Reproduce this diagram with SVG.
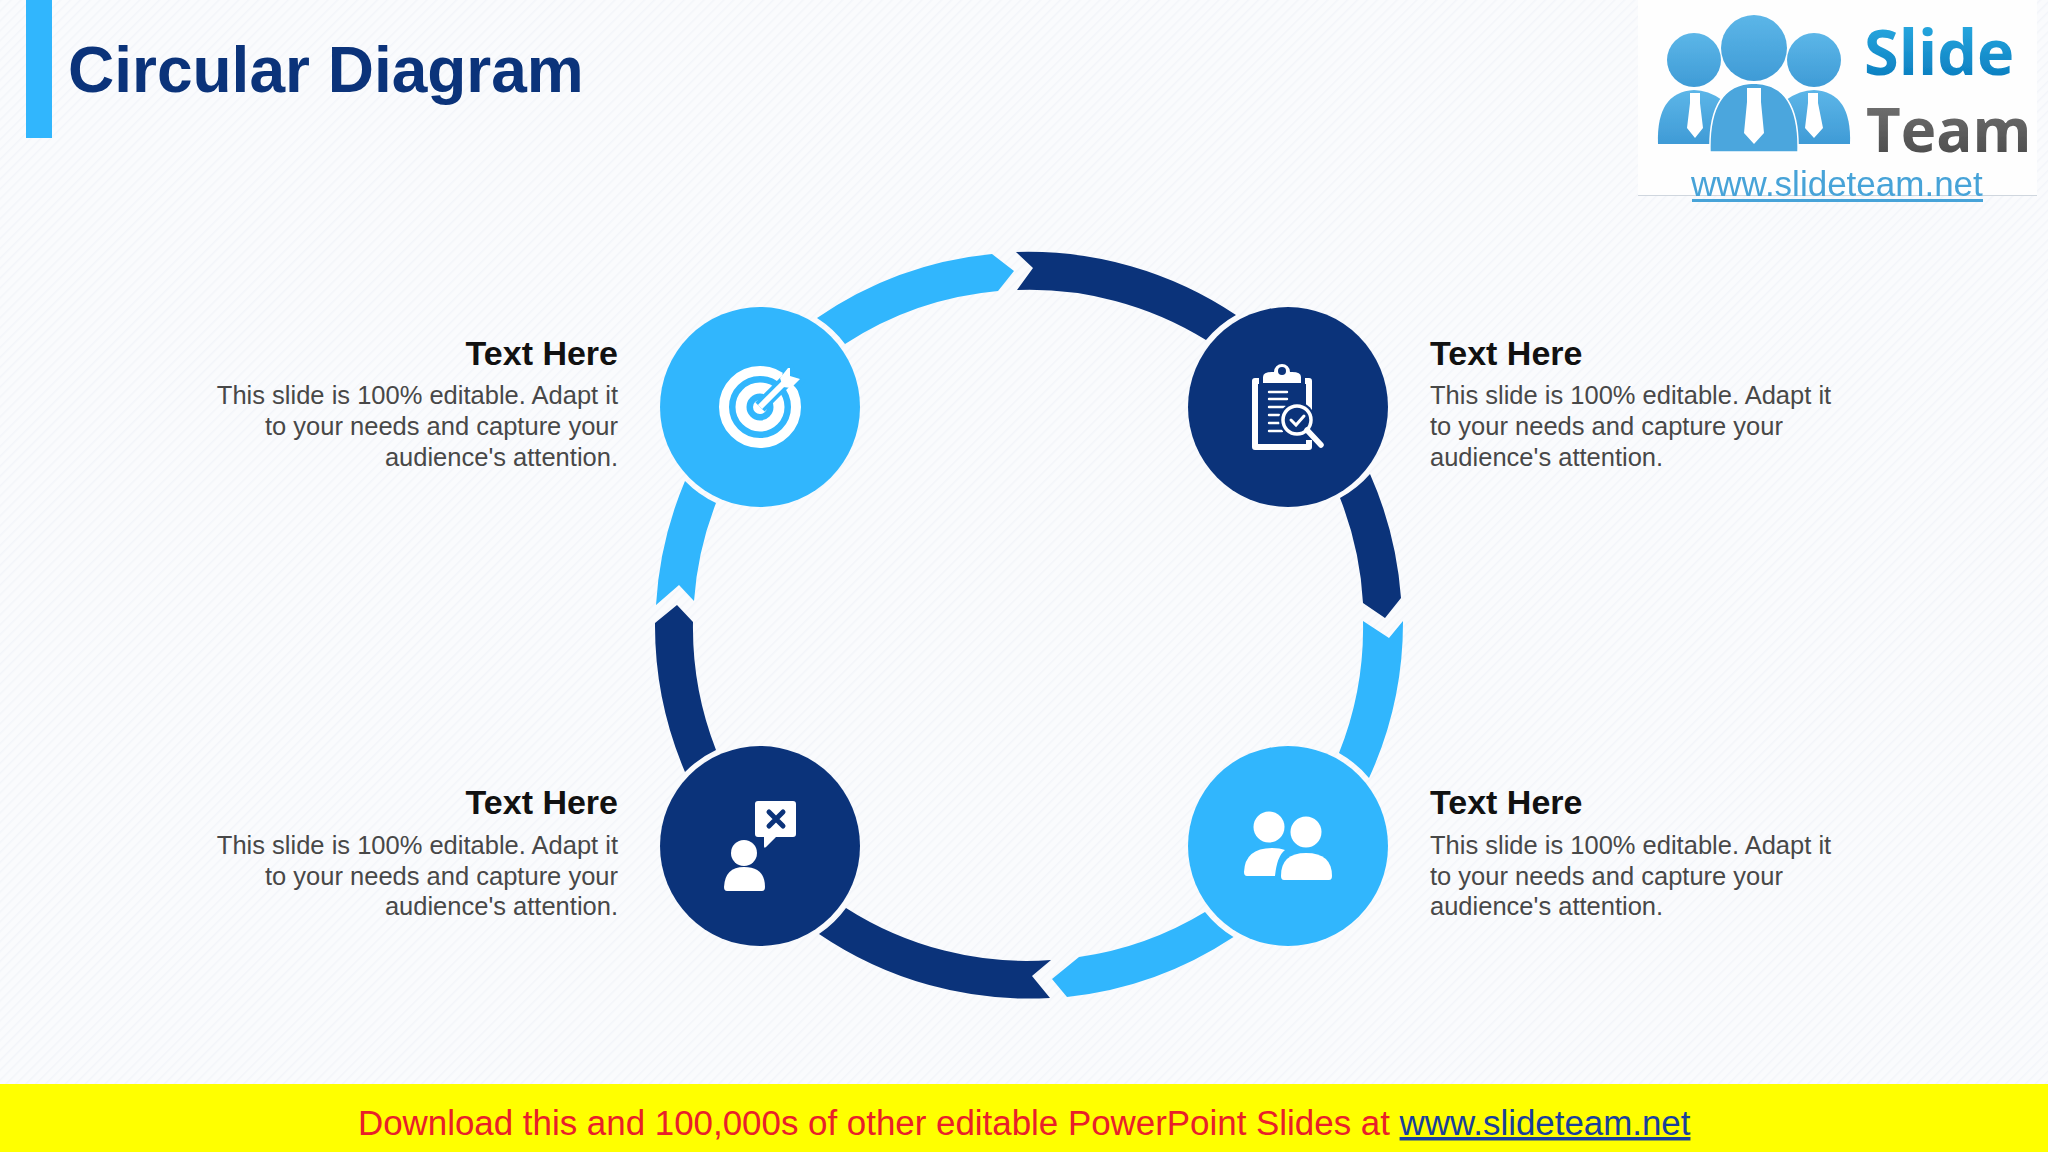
<svg xmlns="http://www.w3.org/2000/svg" width="2048" height="1152" viewBox="0 0 2048 1152">
<style>
.t{font-family:"Liberation Sans",Arial,sans-serif}
.h{font-size:34px;font-weight:700;fill:#111}
.b{font-size:25.5px;fill:#484848}
.l{fill:#31b6fd}
.d{fill:#0b337a}
.w{fill:#fff}
.ln{stroke:#fff;fill:none;stroke-linecap:round}
.o{font-family:"Open Sans","Liberation Sans",sans-serif;font-weight:700}
</style>
<defs>
<pattern id="bg" width="7" height="7" patternUnits="userSpaceOnUse" patternTransform="rotate(45)">
<rect width="7" height="7" fill="#fafbfd"/><rect width="1.500" height="7" fill="#f3f5fa"/>
</pattern>
<linearGradient id="gs" x1="0" y1="0" x2="0" y2="1"><stop offset="0" stop-color="#2fb3e8"/><stop offset="1" stop-color="#0574b8"/></linearGradient>
<linearGradient id="gt" x1="0" y1="0" x2="0" y2="1"><stop offset="0" stop-color="#7a7a7a"/><stop offset="1" stop-color="#444"/></linearGradient>
<linearGradient id="gp" x1="0" y1="0" x2="0" y2="1"><stop offset="0" stop-color="#5cb6e8"/><stop offset="1" stop-color="#3f9bd6"/></linearGradient>
<filter id="soft" x="-5%" y="-5%" width="110%" height="110%"><feGaussianBlur stdDeviation="0.7"/></filter>
</defs>
<rect id="background" width="2048" height="1152" fill="url(#bg)"/>
<g id="header">
<rect x="26" y="0" width="26" height="138" class="l"/>
<text x="68" y="92" class="t" font-size="64" font-weight="700" fill="#0b337a">Circular Diagram</text>
</g>
<g id="logo">
<rect x="1638" y="0" width="399" height="195" fill="#fefefe"/>
<rect x="1638" y="195" width="399" height="1" fill="#cfd6de"/>
<g filter="url(#soft)">
<circle cx="1694" cy="60" r="27" fill="url(#gp)"/>
<circle cx="1814" cy="60" r="27" fill="url(#gp)"/>
<path d="M1658 144Q1656 92 1694 90Q1708 90 1722 100V144Z" fill="url(#gp)"/>
<path d="M1850 144Q1852 92 1814 90Q1800 90 1786 100V144Z" fill="url(#gp)"/>
<path d="M1710 152Q1708 84 1754 83Q1800 84 1798 152Z" fill="#4ba6dd" stroke="#fff" stroke-width="1.500"/>
<circle cx="1754" cy="48" r="33" fill="url(#gp)"/>
<path d="M1690 93H1700V103L1703 128L1695 138L1687 128L1690 103Z" class="w"/>
<path d="M1747 88H1761V102L1764 133L1754 144L1744 133L1747 102Z" class="w"/>
<path d="M1808 93H1818V103L1823 128L1814 138L1805 128L1808 103Z" class="w"/>
<text x="1864" y="75" class="o" font-size="63" fill="url(#gs)">Slide</text>
<text x="1866" y="152" class="o" font-size="60" fill="url(#gt)">Team</text>
<text x="1691" y="196" class="t" font-size="35" fill="#47a3d8">www.slideteam.net</text>
<rect x="1692" y="199" width="291" height="3" fill="#47a3d8"/>
</g>
</g>
<g id="connectors">
<path class="l" d="M817 318A373 373 0 0 1 992 254L1014 271L998 291A335 335 0 0 0 845 344A106 106 0 0 0 817 318Z"/>
<path class="d" d="M1016 252L1033 268L1017 290A335 335 0 0 1 1206 340A106 106 0 0 1 1236 315A373 373 0 0 0 1016 252Z"/>
<path class="d" d="M1370 474A373 373 0 0 1 1401 598L1385 618L1363 603A335 335 0 0 0 1340 498A106 106 0 0 0 1370 474Z"/>
<path class="l" d="M1363 621L1389 638L1403 621A373 373 0 0 1 1369 778A106 106 0 0 0 1339 753A335 335 0 0 0 1363 621Z"/>
<path class="l" d="M1205 912A106 106 0 0 0 1233.500 937A373 373 0 0 1 1067 997L1052 979L1079 957A335 335 0 0 0 1205 912Z"/>
<path class="d" d="M1051 960L1032 976L1050 998A373 373 0 0 1 819 934A106 106 0 0 0 846 908A335 335 0 0 0 1051 960Z"/>
<path class="d" d="M716 750A106 106 0 0 0 685 772A373 373 0 0 1 655 623L677 605L693 622A335 335 0 0 0 716 750Z"/>
<path class="l" d="M656 605L679 585L694 601A335 335 0 0 1 716 503A106 106 0 0 1 685 481A373 373 0 0 0 656 605Z"/>
</g>
<g id="node-target">
<circle cx="760" cy="407" r="100" class="l"/>
<circle cx="760" cy="407" r="36" fill="none" stroke="#fff" stroke-width="10"/>
<circle cx="760" cy="407" r="19" fill="none" stroke="#fff" stroke-width="11"/>
<circle cx="760" cy="407" r="7" class="w"/>
<path d="M760 407L788 379" stroke="#31b6fd" stroke-width="13" fill="none"/>
<path d="M784 372L800 388L808 378L798 375L795 362Z" class="l" transform="translate(-2 2)"/>
<path d="M760 407L784 383" stroke="#fff" stroke-width="6" fill="none"/>
<path d="M780 378L788 368L790 368L790 376L800 379L791 388L783 387Z" class="w"/>
</g>
<g id="node-clipboard">
<circle cx="1288" cy="407" r="100" class="d"/>
<path d="M1259 381H1255V447H1309V440M1305 381H1309V410" fill="none" stroke="#fff" stroke-width="6" stroke-linejoin="round"/>
<path d="M1263 383V377Q1263 372 1272 372H1274A8 8 0 0 1 1290 372H1292Q1301 372 1301 377V383Z" class="w"/>
<circle cx="1282" cy="371" r="4" class="d"/>
<g class="ln" stroke-width="2.400">
<path d="M1269 392H1287M1269 399H1287M1269 407H1285M1269 415H1279M1269 423H1279M1269 431H1282"/>
</g>
<circle cx="1297" cy="420" r="18" class="d"/>
<circle cx="1297" cy="420" r="14" fill="#0b337a" stroke="#fff" stroke-width="3.500"/>
<path d="M1291 420L1296 425L1304 416" class="ln" stroke-width="3"/>
<path d="M1307 430L1321 445" class="ln" stroke-width="5.500"/>
</g>
<g id="node-people">
<circle cx="1288" cy="846" r="100" class="l"/>
<circle cx="1269" cy="827" r="15.500" class="w"/>
<circle cx="1306" cy="832" r="15.500" class="w"/>
<path d="M1244 872Q1245 848 1272 848Q1280 848 1285 850Q1277 856 1275 876H1247Q1244 876 1244 872Z" class="w"/>
<path d="M1281 876Q1281 853 1306 853Q1332 853 1332 876Q1332 880 1329 880H1284Q1281 880 1281 876Z" class="w"/>
</g>
<g id="node-feedback">
<circle cx="760" cy="846" r="100" class="d"/>
<path d="M758 801H793Q796 801 796 804V834Q796 837 793 837H776L766 847Q764 849 764 846V837H758Q755 837 755 834V804Q755 801 758 801Z" class="w"/>
<path d="M769 812L783 826M783 812L769 826" fill="none" stroke="#0b337a" stroke-width="5" stroke-linecap="round"/>
<circle cx="744" cy="853" r="13" class="w"/>
<path d="M724 887Q725 867 744 867Q765 867 765 887Q765 891 762 891H727Q724 891 724 887Z" class="w"/>
</g>
<g id="label-top-left" class="t" text-anchor="end">
<text x="618" y="365" class="t h">Text Here</text>
<text x="618" y="404" class="t b">This slide is 100% editable. Adapt it</text>
<text x="618" y="435" class="t b">to your needs and capture your</text>
<text x="618" y="466" class="t b">audience's attention.</text>
</g>
<g id="label-top-right" class="t">
<text x="1430" y="365" class="t h">Text Here</text>
<text x="1430" y="404" class="t b">This slide is 100% editable. Adapt it</text>
<text x="1430" y="435" class="t b">to your needs and capture your</text>
<text x="1430" y="466" class="t b">audience's attention.</text>
</g>
<g id="label-bottom-left" class="t" text-anchor="end">
<text x="618" y="814" class="t h">Text Here</text>
<text x="618" y="854" class="t b">This slide is 100% editable. Adapt it</text>
<text x="618" y="885" class="t b">to your needs and capture your</text>
<text x="618" y="915" class="t b">audience's attention.</text>
</g>
<g id="label-bottom-right" class="t">
<text x="1430" y="814" class="t h">Text Here</text>
<text x="1430" y="854" class="t b">This slide is 100% editable. Adapt it</text>
<text x="1430" y="885" class="t b">to your needs and capture your</text>
<text x="1430" y="915" class="t b">audience's attention.</text>
</g>
<g id="footer">
<rect x="0" y="1084" width="2048" height="68" fill="#ffff00"/>
<text x="358" y="1135" class="t" font-size="34.900" fill="#e8202a">Download this and 100,000s of other editable PowerPoint Slides at <tspan fill="#1a3f9a" text-decoration="underline">www.slideteam.net</tspan></text>
</g>
</svg>
